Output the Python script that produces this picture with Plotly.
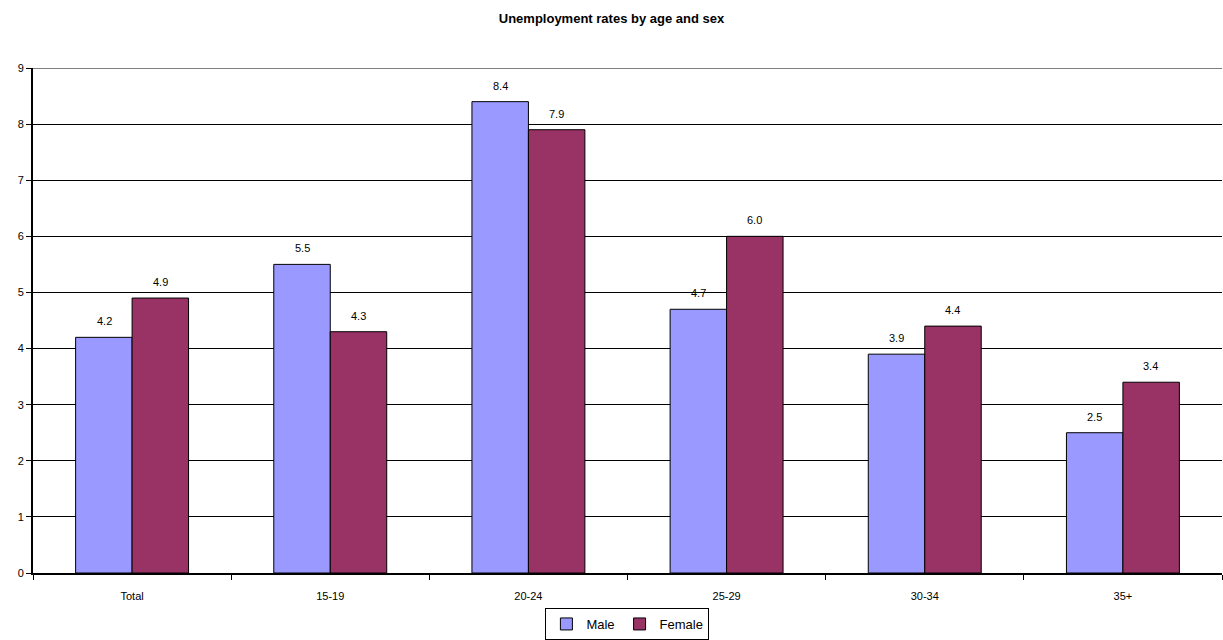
import plotly.graph_objects as go

categories = ["Total", "15-19", "20-24", "25-29", "30-34", "35+"]
male = [4.2, 5.5, 8.4, 4.7, 3.9, 2.5]
female = [4.9, 4.3, 7.9, 6.0, 4.4, 3.4]
y_ticks = list(range(0, 10))

font = "Liberation Sans, Arial, sans-serif"

fig = go.Figure()
fig.add_trace(go.Bar(
    x=categories, y=male, name="Male",
    marker=dict(color="#9999FF", line=dict(color="black", width=1)),
))
fig.add_trace(go.Bar(
    x=categories, y=female, name="Female",
    marker=dict(color="#993366", line=dict(color="black", width=1)),
))

annotations = []
for series, shift in ((male, -28), (female, 28)):
    for c, v in zip(categories, series):
        annotations.append(dict(
            x=c, y=v, xref="x", yref="y", text=f"{v:.1f}", showarrow=False,
            xshift=shift, yshift=8, yanchor="bottom",
            font=dict(size=11, color="black", family=font),
        ))

fig.update_layout(
    width=1223, height=640,
    margin=dict(l=33, r=1, t=68, b=67, autoexpand=False),
    paper_bgcolor="white", plot_bgcolor="white",
    barmode="group", bargap=0.43, bargroupgap=0,
    font=dict(family=font, size=11, color="black"),
    title=dict(text="<b>Unemployment rates by age and sex</b>", x=0.5, xanchor="center",
               y=1 - 18 / 640, yanchor="middle", font=dict(size=13, family=font)),
    showlegend=True,
    legend=dict(orientation="h", x=0.513, xanchor="center", xref="container",
                y=0.0, yanchor="bottom", yref="container",
                bordercolor="black", borderwidth=1, font=dict(size=13, family=font),
                itemwidth=30, traceorder="normal"),
    annotations=annotations,
)
fig.update_xaxes(
    showline=True, linecolor="black", linewidth=2,
    ticks="outside", tickson="boundaries", ticklen=5, tickcolor="black", tickwidth=1,
    tickfont=dict(size=11, family=font), ticklabelstandoff=12,
)
fig.update_yaxes(
    range=[0, 9], tickvals=y_ticks, showgrid=True, gridcolor="black", gridwidth=1,
    showline=True, linecolor="black", linewidth=2,
    ticks="outside", ticklen=5, tickcolor="black", tickwidth=1,
    tickfont=dict(size=11, family=font), zeroline=False,
)
fig.add_shape(type="line", xref="paper", yref="y", x0=0, x1=1, y0=9, y1=9,
              line=dict(color="#808080", width=2), layer="above")

fig.write_html("out.html")
